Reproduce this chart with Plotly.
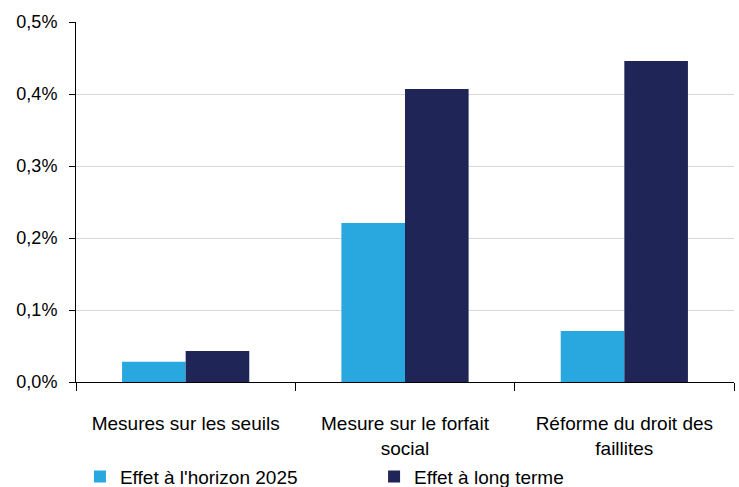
import plotly.graph_objects as go

categories = ["Mesures sur les seuils", "Mesure sur le forfait<br>social", "Réforme du droit des<br>faillites"]
series_names = ["Effet à l'horizon 2025", "Effet à long terme"]
horizon_2025 = [0.028, 0.221, 0.071]
long_terme = [0.043, 0.407, 0.446]
y_ticks = [0.0, 0.1, 0.2, 0.3, 0.4, 0.5]
y_tick_labels = ["0,0%", "0,1%", "0,2%", "0,3%", "0,4%", "0,5%"]

fig = go.Figure()
fig.add_trace(go.Bar(x=categories, y=horizon_2025, name=series_names[0],
                     marker_color="#29A8E0", marker_line_width=0, legend="legend"))
fig.add_trace(go.Bar(x=categories, y=long_terme, name=series_names[1],
                     marker_color="#1F2557", marker_line_width=0, legend="legend2"))

font = "Liberation Sans, Arial, sans-serif"
leg_common = dict(orientation="h", yanchor="middle", y=-0.263, xanchor="left",
                  font=dict(size=19, family=font), itemwidth=30, borderwidth=0,
                  bgcolor="rgba(0,0,0,0)")
fig.update_layout(
    width=739, height=487,
    margin=dict(l=76, r=5, t=22, b=105, autoexpand=False),
    plot_bgcolor="white", paper_bgcolor="white",
    barmode="group", bargap=0.42, bargroupgap=0,
    font=dict(family=font, size=17, color="#000000"),
    legend=dict(x=0.006, **leg_common),
    legend2=dict(x=0.453, **leg_common),
    showlegend=True,
)
fig.update_xaxes(
    showline=True, linecolor="black", linewidth=1,
    ticks="outside", tickson="boundaries", ticklen=8, tickcolor="black",
    ticklabelstandoff=24,
    showgrid=False, tickfont=dict(size=19),
)
fig.update_yaxes(
    range=[0, 0.5], tickvals=y_ticks, ticktext=y_tick_labels,
    showline=True, linecolor="black", linewidth=1,
    ticks="outside", ticklen=6, tickcolor="black",
    ticklabelstandoff=8,
    showgrid=True, gridcolor="#D9D9D9", gridwidth=1,
    zeroline=False, tickfont=dict(size=18),
)
fig.write_html("out.html")
